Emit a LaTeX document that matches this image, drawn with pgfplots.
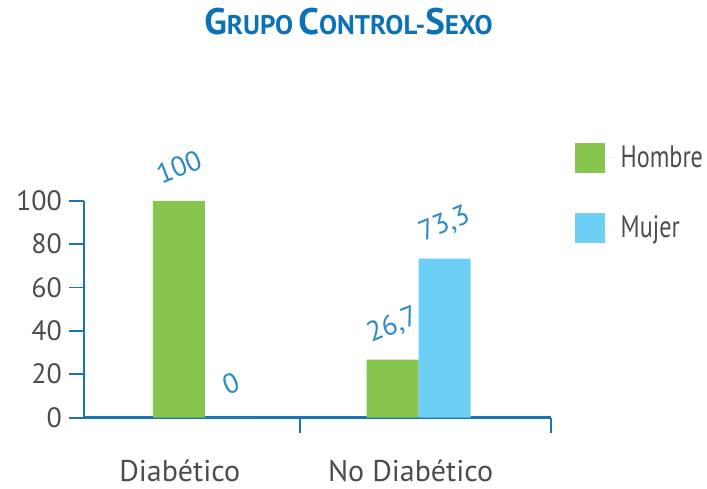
\documentclass[border=0pt]{standalone}
\usepackage{fontspec}
\setmainfont{PT Sans}
\newfontfamily\narrowfont[FakeStretch=0.78]{PT Sans}
\usepackage{pgfplots}
\pgfplotsset{compat=1.18}
\definecolor{hombre}{HTML}{88C54F}
\definecolor{mujer}{HTML}{6DCFF6}
\definecolor{axblue}{HTML}{1B75B5}
\definecolor{ttlblue}{HTML}{0B72B5}
\definecolor{lblblue}{HTML}{2B8AC3}
\definecolor{txtgray}{HTML}{4D4D4D}
\newcommand{\capA}[1]{{\fontsize{18.5}{18.5}\selectfont #1}}
\newcommand{\capB}[1]{{\fontsize{13.5}{13.5}\selectfont #1}}

\begin{document}
\begin{tikzpicture}
\begin{axis}[
    at={(0,0)}, anchor=south west,
    scale only axis, width=234pt, height=108.5pt,
    clip=false,
    ybar=0pt, bar width=26pt,
    xmin=-0.5654, xmax=1.6215,
    ymin=0, ymax=100,
    axis x line=bottom, axis y line=left,
    axis line style={axblue, line width=1.1pt, -},
    tick align=outside,
    major tick length=7.5pt,
    tick style={axblue, line width=1pt},
    xtick={0.444,1.6215}, xticklabels={},
    extra x ticks={-0.117,0.963},
    extra x tick labels={Diabético,No Diabético},
    extra x tick style={major tick length=0pt,
        xticklabel style={anchor=base, yshift=-32pt, text=txtgray,
            font=\fontsize{15}{15}\selectfont}},
    ytick={0,20,...,100},
    yticklabel style={text=txtgray, font=\fontsize{14}{14}\selectfont},
    /pgf/number format/assume math mode=true,
    /pgf/number format/use comma,
    nodes near coords,
    nodes near coords style={text=lblblue, font=\fontsize{14}{14}\selectfont,
        anchor=center, inner sep=1pt, yshift=17pt, rotate=22},
    legend image code/.code={\fill[#1] (0pt,-7.5pt) rectangle (15pt,7.5pt);
        \path (15pt,0pt) -- (21pt,0pt);},
    legend cell align=left,
    legend style={draw=none, fill=none, inner sep=0pt,
        at={(rel axis cs:1.049,1.275)}, anchor=north west,
        font=\narrowfont\fontsize{15.5}{15.5}\selectfont, text=txtgray,
        row sep=18.5pt},
]
\addplot[fill=hombre, draw=none] coordinates {(0,100) (1,26.7)};
\addplot[fill=mujer, draw=none] coordinates {(0,0) (1,73.3)};
\legend{Hombre, Mujer}
\node[text=ttlblue, font=\bfseries] at (rel axis cs:0.566,1.825)
    {\capA{G}\capB{RUPO} \capA{C}\capB{ONTROL-}\capA{S}\capB{EXO}};
\path (rel axis cs:0,0) ++(-42pt,-35pt) rectangle ++(353.5pt,244pt);
\end{axis}
\end{tikzpicture}
\end{document}
